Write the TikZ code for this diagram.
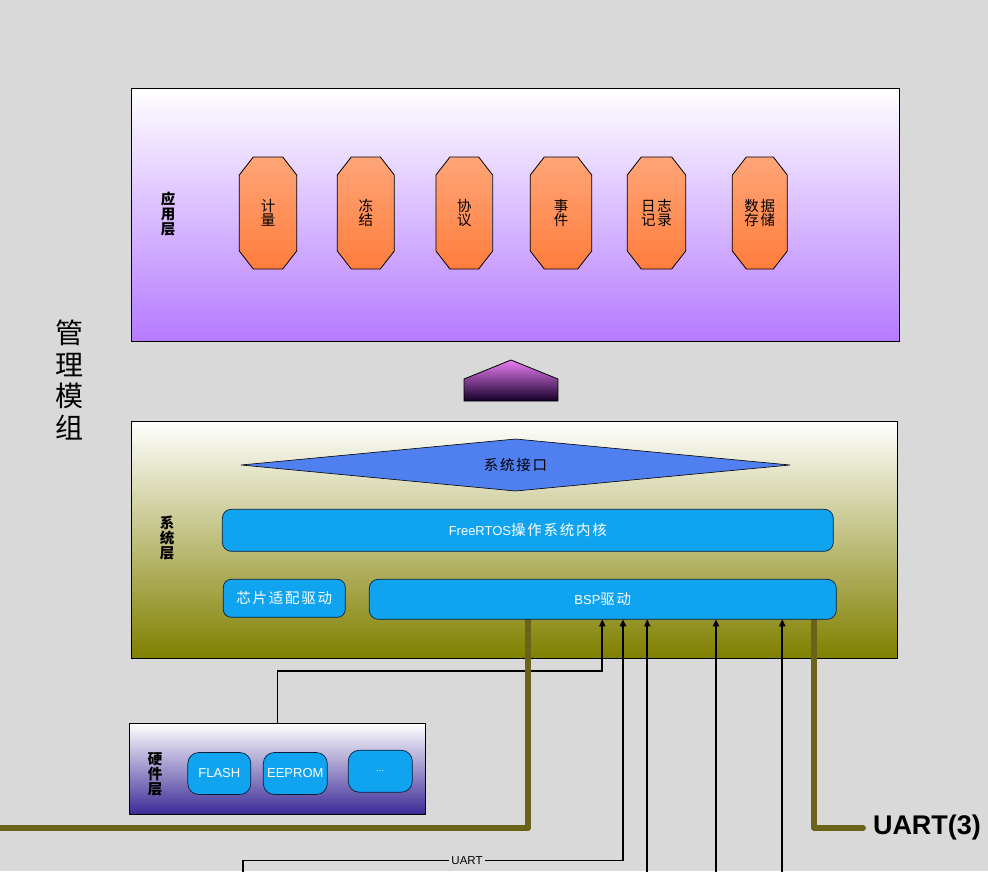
\documentclass[tikz,border=0pt]{standalone}
\usepackage{fontspec}
\setmainfont{Liberation Sans}
\newfontfamily\cjk[LetterSpace=12]{Noto Sans CJK SC}
\newfontfamily\cjkn{Noto Sans CJK SC}
\usetikzlibrary{calc,arrows.meta,shapes.geometric}
\pgfdeclarelayer{lay0}
\pgfdeclarelayer{lay1}
\pgfsetlayers{lay0,lay1,main}
\definecolor{bg}{RGB}{217,217,217}
\definecolor{appbot}{RGB}{181,122,255}
\definecolor{sysbot}{RGB}{128,128,0}
\definecolor{hwbot}{RGB}{58,42,150}
\definecolor{boxblue}{RGB}{16,163,240}
\definecolor{ifblue}{RGB}{80,128,240}
\definecolor{octtop}{RGB}{255,165,120}
\definecolor{octbot}{RGB}{255,125,60}
\definecolor{pentop}{RGB}{235,125,245}
\definecolor{penbot}{RGB}{20,0,40}
\definecolor{oliveln}{RGB}{107,99,26}
\definecolor{boxedge}{RGB}{10,30,60}
\begin{document}
\begin{tikzpicture}[x=1pt,y=-1pt,
  every node/.style={inner sep=0pt, outer sep=0pt},
  layerbox/.style={draw=black, line width=0.8pt, rectangle},
  layerlbl/.style={font=\cjkn\bfseries\fontsize{14.5}{15}\selectfont, align=center},
  octslot/.style={minimum width=#1, minimum height=112pt, align=center, font=\cjk\fontsize{14.5}{14}\selectfont},
  octshape/.style={draw=black, line width=0.8pt, top color=octtop, bottom color=octbot},
  bluebox/.style={rectangle, draw=boxedge, line width=0.7pt, fill=boxblue, text=white, font=\fontsize{13}{15}\selectfont},
  conn/.style={draw=black, line width=1.8pt, -{Triangle[length=7pt,width=6pt]}},
  oliveline/.style={draw=oliveln, line width=6pt, line join=round, line cap=round}]
\begin{pgfonlayer}{lay0}
\fill[bg] (0,0) rectangle (988,871);
\node[layerbox, minimum width=768pt, minimum height=253pt, top color=white, bottom color=appbot] (app) at (515,214.5) {};
\node[layerbox, minimum width=766pt, minimum height=237pt, top color=white, bottom color=sysbot] (sys) at (514,539.5) {};
\node[layerbox, minimum width=296pt, minimum height=91pt, top color=white, bottom color=hwbot] (hw) at (277.5,769) {};
\end{pgfonlayer}
\useasboundingbox (0,0) rectangle (988,871);
% layer labels
\node[layerlbl] (applbl) at (168,214) {应\\用\\层};
\node[layerlbl] (syslbl) at (167,538) {系\\统\\层};
\node[layerlbl] (hwlbl) at (155,774.5) {硬\\件\\层};
\node[font=\cjkn\fontsize{28}{31.5}\selectfont, align=center] (mgmt) at (69,380) {管\\理\\模\\组};
% application modules
\node[octslot=57.4pt] (o1) at (268,213) {计\\量};
\node[octslot=57pt] (o2) at (365.8,213) {冻\\结};
\node[octslot=56.7pt] (o3) at (464.3,213) {协\\议};
\node[octslot=61.4pt] (o4) at (561,213) {事\\件};
\node[octslot=58.4pt] (o5) at (656.5,213) {日志\\记录};
\node[octslot=55pt] (o6) at (759.8,213) {数据\\存储};
\begin{pgfonlayer}{lay1}
\foreach \n in {o1,o2,o3,o4,o5,o6}{
  \path[octshape] ($(\n.north west)+(14,0)$) -- ($(\n.north east)+(-14,0)$) -- ($(\n.north east)+(0,18)$) -- ($(\n.south east)+(0,-18)$) -- ($(\n.south east)+(-14,0)$) -- ($(\n.south west)+(14,0)$) -- ($(\n.south west)+(0,-18)$) -- ($(\n.north west)+(0,18)$) -- cycle;
}
\end{pgfonlayer}
% up arrow
\path[draw=black, line width=0.8pt, top color=pentop, bottom color=penbot] (464,401) -- (464,379) -- (511,360) -- (558,379) -- (558,401) -- cycle;
% system layer
\node[minimum width=549pt, minimum height=52pt, font=\cjk\fontsize{14.5}{15}\selectfont] (iface) at (515.5,465) {系统接口};
\begin{pgfonlayer}{lay1}
\path[draw=black, line width=0.6pt, fill=ifblue] (iface.west) -- (iface.north) -- (iface.east) -- (iface.south) -- cycle;
\end{pgfonlayer}
\node[bluebox, rounded corners=9pt, minimum width=611pt, minimum height=42pt] (rtos) at (527.8,530.3) {FreeRTOS{\cjk\fontsize{14.5}{15}\selectfont 操作系统内核}};
\node[bluebox, rounded corners=8pt, minimum width=122pt, minimum height=38pt] (chip) at (284.3,598.3) {{\cjk\fontsize{14.5}{15}\selectfont 芯片适配驱动}};
\node[bluebox, rounded corners=9pt, minimum width=467pt, minimum height=40pt] (bsp) at (602.8,599.3) {BSP{\cjk\fontsize{14.5}{15}\selectfont 驱动}};
% hardware layer
\node[bluebox, rounded corners=11pt, minimum width=63pt, minimum height=42pt] (flash) at (219.3,773.5) {FLASH};
\node[bluebox, rounded corners=11pt, minimum width=64pt, minimum height=42pt] (eeprom) at (295.3,773.5) {EEPROM};
\node[bluebox, rounded corners=11pt, minimum width=64pt, minimum height=42pt, font=\fontsize{9}{10}\selectfont] (more) at (380.3,771.2) {...};
% connectors
\begin{pgfonlayer}{lay1}
\coordinate (k1) at (602.3,671);
\draw[conn] (hw.north) |- (k1) -- (bsp.south -| k1);
\coordinate (u0) at (243,876);
\coordinate (u1) at (623,860.5);
\draw[conn] (u0) |- (u1) -- (bsp.south -| u1);
\foreach \x/\nm in {647.3/c3,716/c4,782.3/c5}{
  \coordinate (\nm) at (\x,876);
  \draw[conn] (\nm) -- (bsp.south -| \nm);
}
\coordinate (ol) at (528,828);
\coordinate (olend) at (-4,828);
\draw[oliveline] (bsp.south -| ol) -- (ol) -- (olend);
\coordinate (or) at (814.3,828);
\end{pgfonlayer}
\node[font=\fontsize{11.5}{12}\selectfont, fill=bg, inner xsep=2pt, inner ysep=1pt] (uartlbl) at (467,860.5) {UART};
\node[font=\bfseries\fontsize{27}{30}\selectfont, anchor=west] (uart3) at (873,828) {UART(3)};
\begin{pgfonlayer}{lay1}
\draw[oliveline] (bsp.south -| or) -- (or) -- ($(uart3.west)+(-10,0)$);
\end{pgfonlayer}
\end{tikzpicture}
\end{document}
